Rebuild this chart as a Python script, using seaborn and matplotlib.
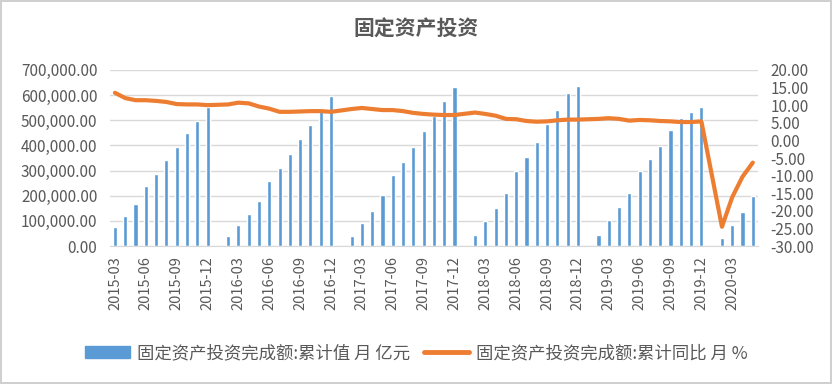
import matplotlib
matplotlib.use("Agg")
import matplotlib.pyplot as plt
import seaborn as sns
import numpy as np
import pandas as pd
from matplotlib.patches import Patch
from matplotlib.lines import Line2D

# 月份 2015-03 ~ 2020-05（1月无数据）
months = pd.period_range("2015-03", "2020-05", freq="M").strftime("%Y-%m").tolist()

# 固定资产投资完成额:累计值（亿元），每年从1月起，1月为空
inv_2015 = [77511, 118558, 169118, 237132, 285967, 340263, 394531, 447425, 497977, 551590]  # 3-12月
inv_2016 = [None, 39628, 85843, 126921, 180208, 258360, 309758, 365033, 426906, 481327, 538508, 596501]
inv_2017 = [None, 41378, 93777, 139670, 203718, 280605, 333834, 394150, 458478, 517818, 575057, 631684]
inv_2018 = [None, 44944, 100202, 152654, 212000, 297316, 353883, 413000, 483442, 539339, 608152, 635636]
inv_2019 = [None, 44849, 101871, 155747, 211101, 299100, 345000, 397000, 461204, 510880, 533718, 551478]
inv_2020 = [None, 33323, 84145, 136824, 199194]

# 累计同比（%）
yoy_2015 = [13.5, 12.0, 11.4, 11.4, 11.2, 10.9, 10.3, 10.2, 10.2, 10.0]
yoy_2016 = [None, 10.2, 10.7, 10.5, 9.6, 9.0, 8.1, 8.1, 8.2, 8.3, 8.3, 8.1]
yoy_2017 = [None, 8.9, 9.2, 8.9, 8.6, 8.6, 8.3, 7.8, 7.5, 7.3, 7.2, 7.2]
yoy_2018 = [None, 7.9, 7.5, 7.0, 6.1, 6.0, 5.5, 5.3, 5.4, 5.7, 5.9, 5.9]
yoy_2019 = [None, 6.1, 6.3, 6.1, 5.6, 5.8, 5.7, 5.5, 5.4, 5.2, 5.2, 5.4]
yoy_2020 = [None, -24.5, -16.1, -10.3, -6.3]

invest = inv_2015 + inv_2016 + inv_2017 + inv_2018 + inv_2019 + inv_2020
yoy = yoy_2015 + yoy_2016 + yoy_2017 + yoy_2018 + yoy_2019 + yoy_2020

df = pd.DataFrame({"month": months, "invest": invest, "yoy": yoy, "pos": np.arange(len(months))})
bars = df.dropna(subset=["invest"])
line = df.dropna(subset=["yoy"])

sns.set_style("white")
plt.rcParams["font.family"] = ["Noto Sans CJK SC", "DejaVu Sans"]
txt = "#595959"
grid = "#D9D9D9"
blue = "#5B9BD5"
orange = "#ED7D31"

fig = plt.figure(figsize=(8.32, 3.84), dpi=100)
fig.patch.set_edgecolor("#D0D0D0")
fig.patch.set_linewidth(1.5)
ax = fig.add_axes([0.132, 0.359, 0.779, 0.459])

sns.barplot(data=bars, x="month", y="invest", order=months, color=blue,
            width=0.4, saturation=1, ax=ax)
ax.set_ylim(0, 700000)
ax.set_yticks(np.arange(0, 700001, 100000))
ax.set_yticklabels([f"{v:,.2f}" for v in np.arange(0, 700001, 100000)])
ax.yaxis.grid(True, color=grid, linewidth=1)
ax.set_axisbelow(True)
ax.set_xlim(-0.5, len(months) - 0.5)
ax.set_xticks(range(0, len(months), 3))
ax.set_xticklabels(months[::3], rotation=90)
ax.set_xticks(np.arange(-0.5, len(months), 3), minor=True)
ax.tick_params(axis="x", which="major", length=0, pad=7, labelsize=10.5, labelcolor=txt)
ax.tick_params(axis="x", which="minor", length=5, color=grid, width=1)
ax.tick_params(axis="y", length=0, pad=9, labelsize=11, labelcolor=txt)
ax.set_xlabel("")
ax.set_ylabel("")
for s in ["top", "left", "right"]:
    ax.spines[s].set_visible(False)
ax.spines["bottom"].set_color(grid)

ax2 = ax.twinx()
sns.lineplot(data=line, x="pos", y="yoy", color=orange, linewidth=3, ax=ax2)
ax2.set_ylim(-30, 20)
ax2.set_yticks(np.arange(-30, 21, 5))
ax2.set_yticklabels([f"{v:.2f}" for v in np.arange(-30, 21, 5)])
ax2.tick_params(axis="y", length=0, pad=9, labelsize=11, labelcolor=txt)
ax2.set_xlim(-0.5, len(months) - 0.5)
ax2.set_xlabel("")
ax2.set_ylabel("")
for s in ax2.spines.values():
    s.set_visible(False)

fig.text(0.5, 0.925, "固定资产投资", ha="center", va="center", fontsize=15,
         fontweight="bold", color=txt)

handles = [Patch(facecolor=blue, edgecolor=blue),
           Line2D([0], [0], color=orange, linewidth=3.5)]
labels = ["固定资产投资完成额:累计值 月 亿元", "固定资产投资完成额:累计同比 月 %"]
fig.legend(handles, labels, loc="center", bbox_to_anchor=(0.5, 0.08), ncol=2,
           frameon=False, fontsize=12.5, labelcolor=txt, handlelength=2.6,
           handletextpad=0.4, columnspacing=0.8)

fig.savefig("out.png", dpi=100)
plt.close(fig)
